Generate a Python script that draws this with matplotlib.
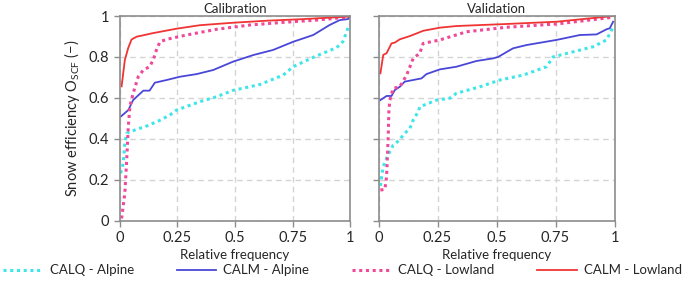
import numpy as np
import matplotlib.pyplot as plt

plt.rcParams['font.family'] = ['Lato', 'DejaVu Sans']

# left panel: calibration (x = relative frequency, y = snow efficiency)
cal_calq_alp_x = [0.005, 0.016, 0.023, 0.031, 0.045, 0.088, 0.103, 0.175, 0.218, 0.247, 0.348, 0.42, 0.49,
                  0.608, 0.709, 0.752, 0.853, 0.94, 0.968, 0.986, 0.995]
cal_calq_alp_y = [0.231, 0.28, 0.377, 0.426, 0.434, 0.451, 0.455, 0.49, 0.516, 0.54, 0.581, 0.605, 0.636,
                  0.665, 0.711, 0.752, 0.805, 0.845, 0.875, 0.93, 0.96]
cal_calm_alp_x = [0.005, 0.038, 0.059, 0.103, 0.13, 0.153, 0.204, 0.261, 0.334, 0.406, 0.492, 0.579, 0.665,
                  0.752, 0.839, 0.91, 0.954, 0.99, 1.0]
cal_calm_alp_y = [0.508, 0.54, 0.589, 0.635, 0.635, 0.674, 0.687, 0.703, 0.716, 0.736, 0.777, 0.809, 0.834,
                  0.874, 0.907, 0.956, 0.98, 0.985, 1.0]
cal_calq_low_x = [0.009, 0.023, 0.031, 0.038, 0.045, 0.059, 0.081, 0.103, 0.13, 0.146, 0.16, 0.175, 0.204,
                  0.29, 0.42, 0.565, 0.71, 0.853, 0.983]
cal_calq_low_y = [0.01, 0.133, 0.296, 0.459, 0.56, 0.622, 0.703, 0.736, 0.752, 0.785, 0.834, 0.874, 0.886,
                  0.907, 0.935, 0.956, 0.969, 0.98, 0.994]
cal_calm_low_x = [0.009, 0.023, 0.038, 0.052, 0.074, 0.10, 0.139, 0.247, 0.348, 0.49, 0.637, 0.78, 0.99]
cal_calm_low_y = [0.656, 0.785, 0.845, 0.885, 0.899, 0.905, 0.915, 0.938, 0.955, 0.967, 0.977, 0.984, 0.997]

# right panel: validation
val_calq_alp_x = [0.008, 0.013, 0.02, 0.034, 0.048, 0.062, 0.09, 0.104, 0.133, 0.147, 0.168, 0.175, 0.246,
                  0.302, 0.33, 0.43, 0.514, 0.613, 0.712, 0.74, 0.825, 0.91, 0.966, 0.987, 0.995]
val_calq_alp_y = [0.169, 0.214, 0.263, 0.304, 0.337, 0.369, 0.394, 0.418, 0.451, 0.491, 0.532, 0.556, 0.589,
                  0.598, 0.622, 0.654, 0.687, 0.711, 0.752, 0.80, 0.825, 0.85, 0.883, 0.93, 0.95]
val_calm_alp_x = [0.008, 0.034, 0.055, 0.069, 0.09, 0.111, 0.182, 0.203, 0.26, 0.33, 0.415, 0.486, 0.507,
                  0.57, 0.627, 0.754, 0.853, 0.924, 0.966, 0.98, 0.994]
val_calm_alp_y = [0.589, 0.609, 0.609, 0.638, 0.654, 0.679, 0.695, 0.716, 0.739, 0.752, 0.78, 0.793, 0.80,
                  0.842, 0.858, 0.883, 0.907, 0.91, 0.935, 0.94, 0.972]
val_calq_low_x = [0.008, 0.027, 0.034, 0.037, 0.041, 0.044, 0.048, 0.062, 0.09, 0.119, 0.147, 0.175, 0.189,
                  0.26, 0.373, 0.542, 0.754, 0.966, 0.995]
val_calq_low_y = [0.149, 0.152, 0.214, 0.296, 0.41, 0.54, 0.589, 0.646, 0.654, 0.711, 0.793, 0.818, 0.866,
                  0.883, 0.923, 0.945, 0.961, 0.99, 0.995]
val_calm_low_x = [0.008, 0.02, 0.034, 0.055, 0.069, 0.09, 0.133, 0.19, 0.26, 0.33, 0.542, 0.754, 0.994]
val_calm_low_y = [0.72, 0.81, 0.818, 0.866, 0.87, 0.886, 0.902, 0.928, 0.943, 0.951, 0.961, 0.972, 1.0]

xticks = [0, 0.25, 0.5, 0.75, 1]
xticklabels = ['0', '0.25', '0.5', '0.75', '1']
yticks = [0, 0.2, 0.4, 0.6, 0.8, 1]
yticklabels = ['0', '0.2', '0.4', '0.6', '0.8', '1']

c_calq_alp = '#3ee6ea'
c_calm_alp = '#4a46d8'
c_calq_low = '#f0489a'
c_calm_low = '#f03434'
txt = '#262626'

fig = plt.figure(figsize=(6.85, 2.89), dpi=100)
ax1 = fig.add_axes([0.1745, 0.237, 0.337, 0.7076])
ax2 = fig.add_axes([0.5526, 0.237, 0.3445, 0.7076])

panels = [
    (ax1, 'Calibration', cal_calq_alp_x, cal_calq_alp_y, cal_calm_alp_x, cal_calm_alp_y,
     cal_calq_low_x, cal_calq_low_y, cal_calm_low_x, cal_calm_low_y),
    (ax2, 'Validation', val_calq_alp_x, val_calq_alp_y, val_calm_alp_x, val_calm_alp_y,
     val_calq_low_x, val_calq_low_y, val_calm_low_x, val_calm_low_y),
]

for ax, title, qax, qay, max_, may, qlx, qly, mlx, mly in panels:
    ax.plot(qax, qay, color=c_calq_alp, ls=(0, (1, 1.2)), lw=2.2, label='CALQ - Alpine')
    ax.plot(max_, may, color=c_calm_alp, ls='-', lw=1.3, label='CALM - Alpine')
    ax.plot(qlx, qly, color=c_calq_low, ls=(0, (1, 1.2)), lw=2.2, label='CALQ - Lowland')
    ax.plot(mlx, mly, color=c_calm_low, ls='-', lw=1.3, label='CALM - Lowland')
    ax.set_xlim(0, 1)
    ax.set_ylim(0, 1)
    ax.set_xticks(xticks)
    ax.set_xticklabels(xticklabels)
    ax.set_yticks(yticks)
    ax.grid(True, color='#d4d4d4', ls=(0, (4, 3)), lw=1)
    ax.set_axisbelow(True)
    for s in ax.spines.values():
        s.set_color('#8c8c8c')
        s.set_linewidth(1.2)
    ax.tick_params(colors='#8c8c8c', labelcolor=txt, labelsize=10.5, length=4, width=1)
    ax.set_title(title, fontsize=9.5, color=txt, pad=2)
    ax.set_xlabel('Relative frequency', fontsize=9.5, color=txt, labelpad=3)

ax1.set_yticklabels(yticklabels)
ax2.set_yticklabels([])
ax1.set_ylabel(r'Snow efficiency $\mathregular{O_{SCF}}$ (−)', fontsize=10.5, color=txt, labelpad=5)

h, l = ax1.get_legend_handles_labels()
fig.legend(h, l, loc='center', bbox_to_anchor=(0.005, 0.02, 0.99, 0.09), mode='expand', ncol=4,
           frameon=False, fontsize=9.5, handlelength=3.0, handletextpad=0.5, borderaxespad=0,
           borderpad=0, labelcolor=txt)

fig.savefig('out.png', dpi=100)
